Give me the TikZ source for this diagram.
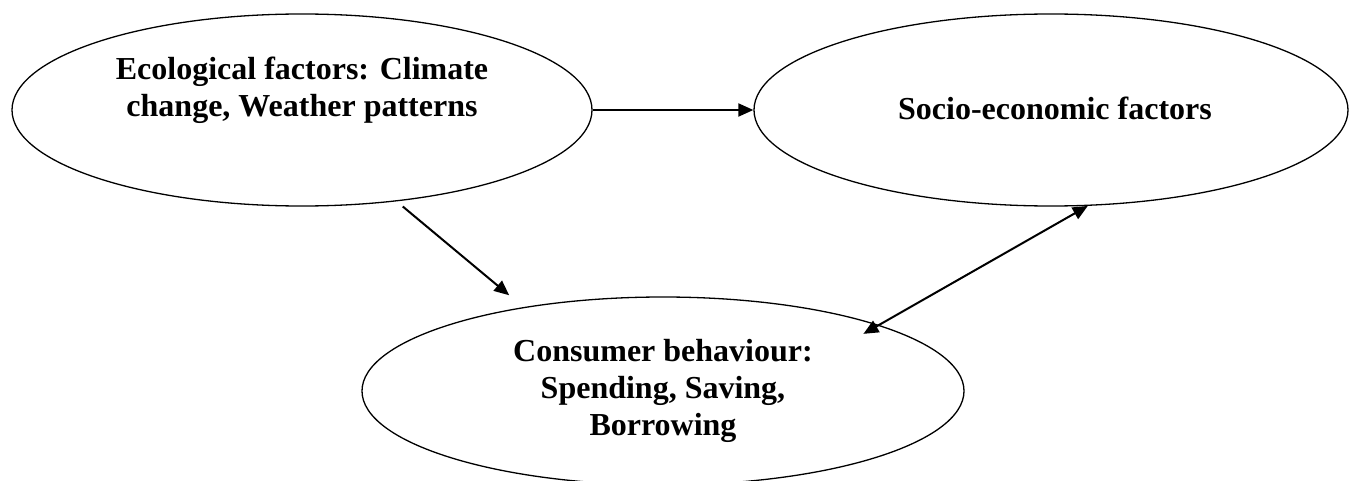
\documentclass[tikz,border=0pt]{standalone}
\usepackage{fontspec}
\setmainfont{Liberation Serif}
\usetikzlibrary{shapes.geometric, arrows.meta}

\begin{document}
\begin{tikzpicture}[x=0.5pt, y=-0.5pt,
    oval/.style={draw, ellipse, line width=0.65pt, inner sep=0pt},
    txt/.style={font=\bfseries\fontsize{16}{18.4}\selectfont, align=center},
    >={Triangle[length=7.5pt, width=6.5pt]}]
    \useasboundingbox (0,0) rectangle (1349,481);
        \node[oval, minimum width=290pt, minimum height=96pt] (eco) at (302,110) {};
        \node[oval, minimum width=297pt, minimum height=96pt] (socio) at (1051,110) {};
        \node[oval, minimum width=301pt, minimum height=94pt] (cons) at (663,391) {};
        \node[txt, yshift=10pt] (ecolab) at (eco) {Ecological factors: Climate\\change, Weather patterns};
        \node[txt, xshift=2pt, yshift=1pt] (sociolab) at (socio) {Socio-economic factors};
        \node[txt] (conslab) at (cons) {Consumer behaviour:\\Spending, Saving,\\Borrowing};
        \draw[->, line width=1pt] (eco.east) -- (socio.west);
        \draw[->, line width=1pt, shorten <=4pt, shorten >=9.25pt] (eco.-44) -- (cons.149.5);
        \draw[<->, line width=1pt, shorten >=-9pt] (socio.-69) -- (cons.17);
\end{tikzpicture}
\end{document}
